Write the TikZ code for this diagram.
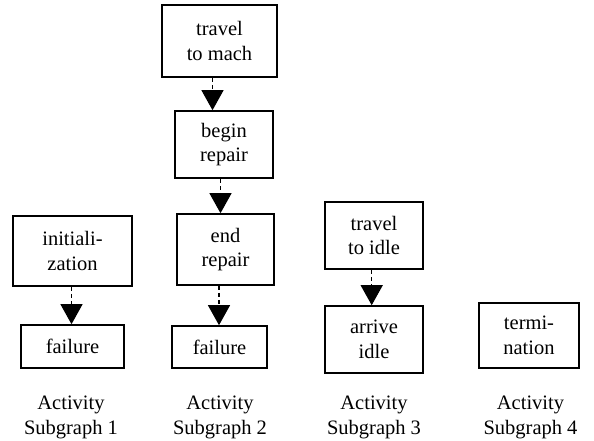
\documentclass[tikz,border=0pt]{standalone}
\usepackage{fontspec}
\setmainfont{Liberation Serif}
\usetikzlibrary{arrows.meta}
\begin{document}
\begin{tikzpicture}[x=1pt,y=-1pt,
  box/.style={draw,line width=1.6pt,inner sep=0pt,align=center,font=\fontsize{20.5}{24.5}\selectfont},
  conn/.style={line width=1.1pt,dash pattern=on 4pt off 3pt,-{Triangle[width=22pt,length=20pt]}},
  lbl/.style={align=center,inner sep=0pt,font=\fontsize{20.5}{24.5}\selectfont}]
\useasboundingbox (0,0) rectangle (594,441);
% subgraph 1
\node[box,minimum width=119pt,minimum height=70pt] (init) at (72.5,251) {initiali-\\zation};
\node[box,minimum width=103pt,minimum height=43pt] (fa) at (72.5,346.5) {failure};
% subgraph 2
\node[box,minimum width=115pt,minimum height=72pt] (tm) at (219.5,41) {travel\\to mach};
\node[box,minimum width=98pt,minimum height=67pt] (br) at (224,144.5) {begin\\repair};
\node[box,minimum width=97pt,minimum height=71pt] (er) at (225.5,249.5) {end\\repair};
\node[box,minimum width=95pt,minimum height=42pt] (fb) at (219.5,347) {failure};
% subgraph 3
\node[box,minimum width=98pt,minimum height=67pt] (ti) at (374,235.5) {travel\\to idle};
\node[box,minimum width=98pt,minimum height=67pt] (ai) at (374,339.5) {arrive\\idle};
% subgraph 4
\node[box,minimum width=100pt,minimum height=65pt] (tr) at (529,335.5) {termi-\\nation};
% connectors
\draw[conn] ([xshift=-1pt]init.south) -- ([xshift=-1pt]init.south |- fa.north);
\draw[conn] ([xshift=-7pt]tm.south) -- ([xshift=-7pt]tm.south |- br.north);
\draw[conn] ([xshift=-3.5pt]br.south) -- ([xshift=-3.5pt]br.south |- er.north);
\draw[conn] ([xshift=-6.5pt]er.south) -- ([xshift=-6.5pt]er.south |- fb.north);
\draw[conn] ([xshift=-2.3pt]ti.south) -- ([xshift=-2.3pt]ti.south |- ai.north);
% labels
\node[lbl] (l1) at (71,417.5) {Activity\\Subgraph 1};
\node[lbl] (l2) at (220,417.5) {Activity\\Subgraph 2};
\node[lbl] (l3) at (374,417.5) {Activity\\Subgraph 3};
\node[lbl] (l4) at (530.5,417.5) {Activity\\Subgraph 4};
\end{tikzpicture}
\end{document}
